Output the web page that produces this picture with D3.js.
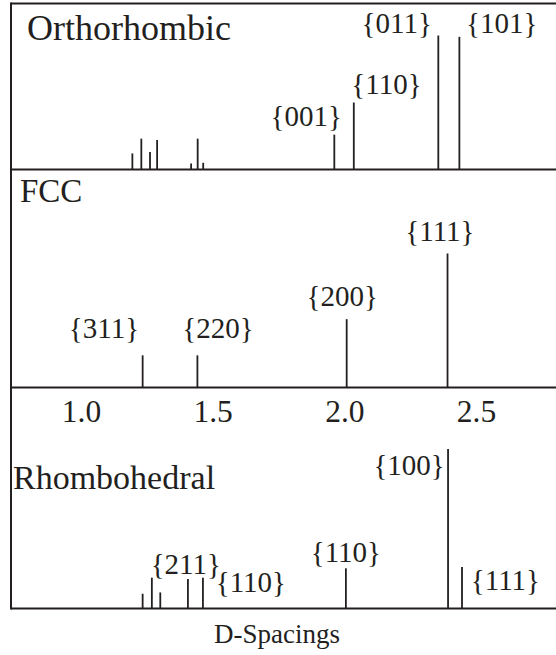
<!DOCTYPE html>
<html>
<head>
<meta charset="utf-8">
<script src="https://cdn.jsdelivr.net/npm/d3@7/dist/d3.min.js"></script>
<style>
  html, body { margin: 0; padding: 0; background: #fff; }
  svg { display: block; }
  text { font-family: "Liberation Serif", "Times New Roman", serif; fill: #231f20; }
</style>
</head>
<body>
<svg id="chart" width="556" height="655"></svg>
<script>
// ---------- DATA ----------
const panelNames = ["Orthorhombic", "FCC", "Rhombohedral"];

// Orthorhombic peaks: d-spacing (Å) and relative intensity
const orthoD = [1.195, 1.229, 1.262, 1.289, 1.418, 1.443, 1.464, 1.962, 2.036, 2.357, 2.437];
const orthoI = [12, 23, 13, 22, 4.5, 23, 5, 26, 50, 100, 99];

// FCC peaks
const fccD = [1.234, 1.442, 2.009, 2.392];
const fccI = [24, 24, 51, 100];

// Rhombohedral peaks
const rhomboD = [1.234, 1.269, 1.301, 1.406, 1.463, 2.006, 2.394, 2.447];
const rhomboI = [11, 23, 12, 22, 23, 30, 119, 31];

// Miller-index labels
const orthoLabels = ["{001}", "{110}", "{011}", "{101}"];
const fccLabels = ["{311}", "{220}", "{200}", "{111}"];
const rhomboLabels = ["{100}", "{211}", "{110}", "{110}", "{111}"];

// Axis
const tickValues = [1.0, 1.5, 2.0, 2.5];
const tickLabels = ["1.0", "1.5", "2.0", "2.5"];
const xTitle = "D-Spacings";

// ---------- LAYOUT ----------
const W = 556, H = 655;
const left = 11;
const svg = d3.select("#chart");

const x = d3.scaleLinear().domain([0.734, 2.804]).range([left, W]);
const pxPerUnit = 1.34;
const y = d3.scaleLinear().domain([0, 100]).range([0, 100 * pxPerUnit]);

const topY = 3.5;
const panels = [
  { name: panelNames[0], base: 169.5, d: orthoD, I: orthoI, titleX: 27, titleY: 40, titleSize: 36,
    labels: orthoLabels, labelPos: [[1.855, 32.5], [2.160, 56], [2.199, 102], [2.598, 102]] },
  { name: panelNames[1], base: 387.5, d: fccD, I: fccI, titleX: 20, titleY: 202, titleSize: 33,
    labels: fccLabels, labelPos: [[1.087, 37], [1.520, 37], [1.992, 61], [2.363, 109]] },
  { name: panelNames[2], base: 608.5, d: rhomboD, I: rhomboI, titleX: 13, titleY: 489, titleSize: 34,
    labels: rhomboLabels, labelPos: [[2.246, 100], [1.398, 25.5], [1.645, 12.5], [2.006, 35], [2.612, 14]] }
];

const ink = "#231f20";

svg.append("line").attr("x1", left).attr("x2", W).attr("y1", topY).attr("y2", topY)
  .attr("stroke", ink).attr("stroke-width", 2);
svg.append("line").attr("x1", left).attr("x2", left).attr("y1", topY - 1).attr("y2", 609.5)
  .attr("stroke", ink).attr("stroke-width", 2);

panels.forEach(p => {
  const g = svg.append("g");
  g.append("line").attr("x1", left).attr("x2", W).attr("y1", p.base).attr("y2", p.base)
    .attr("stroke", ink).attr("stroke-width", 2);
  g.selectAll("line.peak").data(p.d.map((d, i) => ({ d, I: p.I[i] })))
    .join("line").attr("class", "peak")
    .attr("x1", v => x(v.d)).attr("x2", v => x(v.d))
    .attr("y1", p.base).attr("y2", v => p.base - y(v.I))
    .attr("stroke", ink).attr("stroke-width", 1.8);
  g.append("text").attr("x", p.titleX).attr("y", p.titleY)
    .attr("font-size", p.titleSize).text(p.name);
  g.selectAll("text.lab").data(p.labels.map((t, i) => ({ t, pos: p.labelPos[i] })))
    .join("text").attr("class", "lab")
    .attr("x", v => x(v.pos[0])).attr("y", v => p.base - y(v.pos[1]))
    .attr("text-anchor", "middle").attr("font-size", 29).text(v => v.t);
});

const axis = d3.axisBottom(x).tickValues(tickValues).tickSize(0)
  .tickFormat((d, i) => tickLabels[i]);
const ag = svg.append("g").attr("transform", `translate(0, 387.5)`).call(axis);
ag.select(".domain").remove();
ag.selectAll("text").attr("font-size", 31.5).attr("dy", 0).attr("y", 34)
  .style("font-family", '"Liberation Serif", "Times New Roman", serif').attr("fill", ink);

svg.append("text").attr("x", 277).attr("y", 643).attr("text-anchor", "middle")
  .attr("font-size", 27).text(xTitle);
</script>
</body>
</html>
